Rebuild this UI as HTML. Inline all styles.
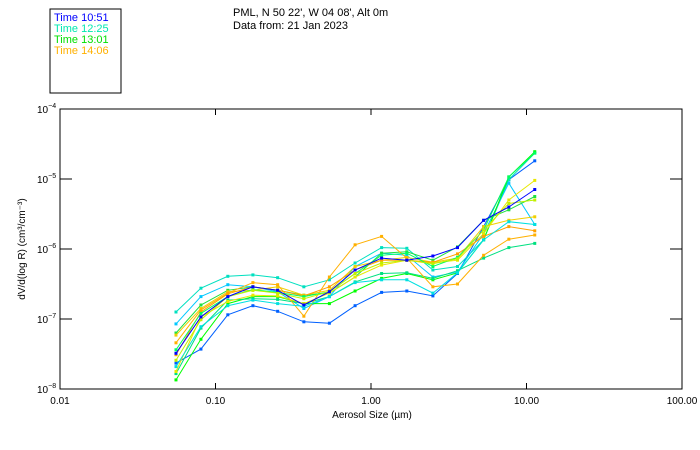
<!DOCTYPE html>
<html><head><meta charset="utf-8"><style>
body{margin:0;background:#fff;}
svg{display:block;font-family:"Liberation Sans",sans-serif;}
</style></head><body>
<svg id="c" width="700" height="450">
<rect x="50" y="9" width="71" height="84" fill="none" stroke="#000"/>
<text x="54" y="21" font-size="11" fill="#0000ff">Time 10:51</text>
<text x="54" y="32" font-size="11" fill="#00e8b0">Time 12:25</text>
<text x="54" y="43" font-size="11" fill="#00e000">Time 13:01</text>
<text x="54" y="54" font-size="11" fill="#ffb000">Time 14:06</text>
<text x="233" y="16" font-size="11">PML, N 50 22', W 04 08', Alt 0m</text>
<text x="233" y="29" font-size="11">Data from: 21 Jan 2023</text>
<rect x="60" y="109" width="622" height="280" fill="none" stroke="#000"/>
<text x="372" y="418" font-size="10" text-anchor="middle">Aerosol Size (µm)</text>
<text transform="translate(25,249) rotate(-90)" font-size="10" text-anchor="middle">dV/d(log R) (cm³/cm⁻³)</text>
<g id="g"></g>
</svg>
<script>
const sizes=[0.0557,0.0806,0.120,0.174,0.251,0.37,0.54,0.79,1.17,1.70,2.5,3.6,5.3,7.7,11.3];
const xTicks=[0.01,0.1,1,10,100];
const xTickLabels=["0.01","0.10","1.00","10.00","100.00"];
const yTicks=[-4,-5,-6,-7,-8];
const colors=["#0000ff","#0060ff","#00e0c0","#00c8ff","#00ff00","#20e040","#00e080","#e8e800","#f0d000","#ffb000","#ffa000","#00e0e0","#00ff60","#c0f000"];
const sA=[-7.49,-6.97,-6.68,-6.54,-6.59,-6.80,-6.61,-6.30,-6.13,-6.16,-6.10,-5.98,-5.59,-5.40,-5.15];
const sB=[-7.63,-7.43,-6.94,-6.81,-6.89,-7.04,-7.06,-6.81,-6.62,-6.60,-6.67,-6.35,-5.68,-5.01,-4.74];
const sC=[-6.90,-6.56,-6.39,-6.37,-6.41,-6.54,-6.44,-6.20,-5.98,-5.99,-6.30,-6.25,-5.87,-5.01,-4.63];
const sD=[-7.07,-6.68,-6.51,-6.54,-6.61,-6.85,-6.68,-6.25,-6.06,-6.09,-6.40,-6.33,-5.78,-5.06,-5.65];
const sE=[-7.87,-7.29,-6.78,-6.68,-6.68,-6.78,-6.78,-6.60,-6.42,-6.35,-6.44,-6.34,-5.87,-4.97,-4.61];
const sF=[-7.20,-6.80,-6.59,-6.54,-6.59,-6.66,-6.63,-6.40,-6.06,-6.04,-6.16,-5.97,-5.59,-5.44,-5.25];
const sG=[-7.78,-7.13,-6.73,-6.71,-6.72,-6.78,-6.68,-6.47,-6.35,-6.34,-6.42,-6.31,-6.13,-5.98,-5.92];
const sH=[-7.75,-6.97,-6.75,-6.66,-6.67,-6.78,-6.63,-6.40,-6.23,-6.16,-6.20,-6.16,-5.78,-5.30,-5.02];
const sI=[-7.23,-6.85,-6.61,-6.59,-6.54,-6.66,-6.59,-6.25,-6.16,-6.12,-6.19,-6.13,-5.68,-5.59,-5.54];
const sJ=[-7.34,-6.87,-6.63,-6.48,-6.51,-6.96,-6.40,-5.94,-5.82,-6.13,-6.54,-6.50,-6.09,-5.86,-5.80];
const sK=[-7.51,-6.90,-6.64,-6.54,-6.59,-6.67,-6.54,-6.30,-6.16,-6.16,-6.19,-6.07,-5.82,-5.68,-5.74];
const sL=[-7.68,-7.11,-6.81,-6.73,-6.78,-6.82,-6.68,-6.48,-6.44,-6.44,-6.63,-6.34,-5.87,-5.61,-5.65];
const sM=[-7.44,-6.92,-6.68,-6.58,-6.62,-6.68,-6.61,-6.35,-6.09,-6.06,-6.25,-6.12,-5.73,-4.97,-4.63];
const sN=[-7.59,-7.01,-6.68,-6.59,-6.63,-6.71,-6.61,-6.35,-6.20,-6.16,-6.21,-6.14,-5.73,-5.35,-5.30];
const series=[sB,sC,sD,sE,sF,sG,sH,sI,sJ,sK,sL,sM,sN,sA];
const seriesColors=[colors[1],colors[2],colors[3],colors[4],colors[5],colors[6],colors[7],colors[8],colors[9],colors[10],colors[11],colors[12],colors[13],colors[0]];
const NS="http://www.w3.org/2000/svg";
const L=60,R=682,T=109,B=389;
function xs(v){return L+(Math.log10(v)+2)*(R-L)/4;}
function ys(lg){return T+(-4-lg)*(B-T)/4;}
const g=document.getElementById('g');
function mk(t,a){const e=document.createElementNS(NS,t);for(const k in a)e.setAttribute(k,a[k]);g.appendChild(e);return e;}
xTicks.forEach((v,i)=>{
 const x=xs(v);
 if(i>0&&i<xTicks.length-1){
  const t1=mk('line',{x1:x,x2:x,y1:B,y2:B-6,stroke:'#000'});
  
  
  const t2=mk('line',{x1:x,x2:x,y1:T,y2:T+6,stroke:'#000'});
  
  
 }
 const tx=mk('text',{x:x,y:B+15,'font-size':10,'text-anchor':'middle'});
 tx.textContent=xTickLabels[i];
 
 
});
yTicks.forEach((lg,i)=>{
 const y=ys(lg);
 if(i>0&&i<yTicks.length-1){
  const t=mk('line',{x1:L,x2:L+12,y1:y,y2:y,stroke:'#000'});
  
  
  const t2=mk('line',{x1:R,x2:R-12,y1:y,y2:y,stroke:'#000'});
  
  
 }
 const tx=mk('text',{x:37,y:y+4,'font-size':10});
 tx.innerHTML='10<tspan dy="-5" font-size="7">'+(lg<0?'−':'')+Math.abs(lg)+'</tspan>';
 
 
});
series.forEach((s,si)=>{
 const c=seriesColors[si];
 const pts=s.map((v,i)=>xs(sizes[i]).toFixed(1)+','+ys(v).toFixed(1)).join(' ');
 const pl=mk('polyline',{points:pts,fill:'none',stroke:c,'stroke-width':1});
 
 
 s.forEach((v,i)=>{
  const r=mk('rect',{x:xs(sizes[i])-1.5,y:ys(v)-1.5,width:3,height:3,fill:c});
  
  
 });
});
</script>
</body></html>
